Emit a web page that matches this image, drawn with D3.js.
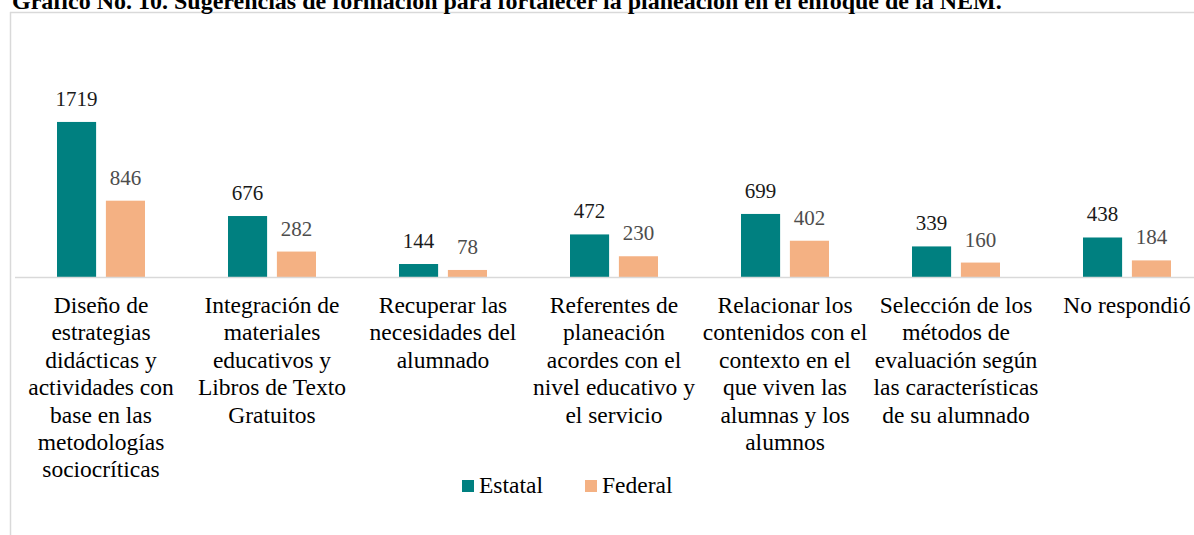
<!DOCTYPE html>
<html>
<head>
<meta charset="utf-8">
<script src="https://cdn.jsdelivr.net/npm/d3@7"></script>
<style>
  body { margin: 0; background: #fff; }
</style>
</head>
<body>
<svg id="chart" width="1194" height="535"></svg>
<script>
// Sugerencias de formación - data
const categories = [
  ["Diseño de", "estrategias", "didácticas y", "actividades con", "base en las", "metodologías", "sociocríticas"],
  ["Integración de", "materiales", "educativos y", "Libros de Texto", "Gratuitos"],
  ["Recuperar las", "necesidades del", "alumnado"],
  ["Referentes de", "planeación", "acordes con el", "nivel educativo y", "el servicio"],
  ["Relacionar los", "contenidos con el", "contexto en el", "que viven las", "alumnas y los", "alumnos"],
  ["Selección de los", "métodos de", "evaluación según", "las características", "de su alumnado"],
  ["No respondió"]
]
const estatal = [1719, 676, 144, 472, 699, 339, 438]
const federal = [846, 282, 78, 230, 402, 160, 184]
const seriesNames = ["Estatal", "Federal"]
const colors = ["#008080", "#F4B183"]
const labelColors = ["#1a1a1a", "#4d4d4d"]

const serif = "'Liberation Serif', 'Times New Roman', 'DejaVu Serif', serif"

let svg = d3.select("#chart")
  .attr("font-family", serif)

// frame
svg.append("line")
  .attr("x1", 10.5).attr("x2", 10.5).attr("y1", 12).attr("y2", 535)
  .attr("stroke", "#d9d9d9").attr("stroke-width", 1.5)
svg.append("line")
  .attr("x1", 10).attr("x2", 1194).attr("y1", 12.5).attr("y2", 12.5)
  .attr("stroke", "#d9d9d9").attr("stroke-width", 1.5)

// title
svg.append("text")
  .attr("x", 12)
  .attr("y", 9)
  .attr("font-family", serif)
  .attr("font-weight", "bold")
  .attr("font-size", "24px")
  .text("Gráfico No. 10. Sugerencias de formación para fortalecer la planeación en el enfoque de la NEM.")

let x0 = d3.scaleBand()
  .domain(d3.range(categories.length))
  .range([15.5, 1212.5])

let x1 = d3.scaleBand()
  .domain([0, 1])
  .range([x0.bandwidth() / 2 - 44, x0.bandwidth() / 2 + 44])
  .paddingInner(0.2)

let y = d3.scaleLinear()
  .domain([0, 2000])
  .range([277, 96.6])

let rows = categories.map((c, i) => [estatal[i], federal[i]])

let groups = svg.selectAll("g.grp")
  .data(rows)
  .enter()
  .append("g")
  .attr("class", "grp")
  .attr("transform", (d, i) => "translate(" + x0(i) + ",0)")

groups.selectAll("rect")
  .data(d => d)
  .enter()
  .append("rect")
  .attr("x", (d, j) => x1(j))
  .attr("width", x1.bandwidth())
  .attr("y", d => y(d))
  .attr("height", d => y(0) - y(d))
  .attr("fill", (d, j) => colors[j])

groups.selectAll("text.val")
  .data(d => d)
  .enter()
  .append("text")
  .attr("class", "val")
  .attr("x", (d, j) => x1(j) + x1.bandwidth() / 2)
  .attr("y", d => y(d) - 16)
  .attr("text-anchor", "middle")
  .attr("font-family", serif)
  .attr("font-size", "21px")
  .attr("fill", (d, j) => labelColors[j])
  .text(d => d)

// baseline
svg.append("line")
  .attr("x1", 15).attr("x2", 1194)
  .attr("y1", y(0) + 0.5).attr("y2", y(0) + 0.5)
  .attr("stroke", "#d9d9d9").attr("stroke-width", 1.5)

// category labels
let catLabels = svg.selectAll("text.cat")
  .data(categories)
  .enter()
  .append("text")
  .attr("class", "cat")
  .attr("text-anchor", "middle")
  .attr("font-family", serif)
  .attr("font-size", "23.5px")
  .attr("fill", "#000")
  .attr("transform", (d, i) => "translate(" + (x0(i) + x0.bandwidth() / 2) + ",313)")

catLabels.selectAll("tspan")
  .data(d => d)
  .enter()
  .append("tspan")
  .attr("x", 0)
  .attr("y", (d, k) => k * 27.4)
  .text(d => d)

// legend
let legendX = [462, 585]
let legend = svg.selectAll("g.leg")
  .data(seriesNames)
  .enter()
  .append("g")
  .attr("class", "leg")
  .attr("transform", (d, i) => "translate(" + legendX[i] + ",480)")

legend.append("rect")
  .attr("width", 12).attr("height", 12)
  .attr("fill", (d, i) => colors[i])

legend.append("text")
  .attr("x", 17)
  .attr("y", 13)
  .attr("font-family", serif)
  .attr("font-size", "23.5px")
  .attr("fill", "#000")
  .text(d => d)
</script>
</body>
</html>
